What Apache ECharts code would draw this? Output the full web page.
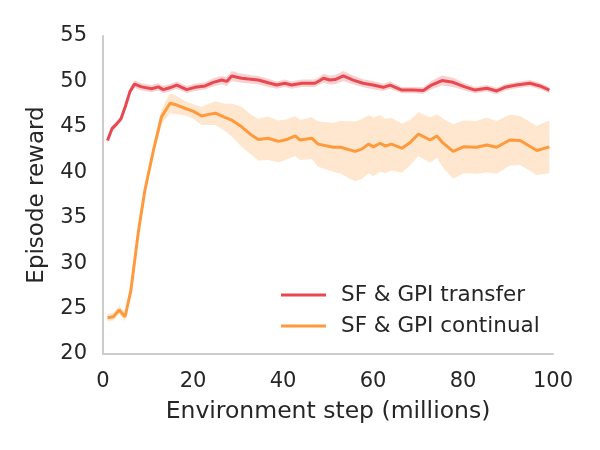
<!DOCTYPE html>
<html>
<head>
<meta charset="utf-8">
<script src="https://cdn.jsdelivr.net/npm/echarts@6/dist/echarts.min.js"></script>
<style>html,body{margin:0;padding:0;background:#fff}#c{width:600px;height:450px}</style>
</head>
<body>
<div id="c"></div>
<script>
// Data
const transferX = [1,2,3,4,5,6,7,8.6,10.8,12.3,13.4,14.8,16.4,18.6,20.4,22.7,24.5,26.4,27.5,28.6,30.8,34.5,36.7,38.6,40.4,41.9,44.2,47.1,48.2,49,50.4,51.6,53.4,55.6,57.8,60,62.3,63.8,66.4,69,71.2,73,75.3,77.8,80.4,82.7,85.3,87.5,89.3,91.9,94.9,97.1,99.2];
const transferY = [43.5,44.8,45.3,45.9,47.3,48.9,49.7,49.4,49.2,49.4,49.1,49.3,49.6,49.1,49.35,49.5,49.9,50.15,50.0,50.6,50.35,50.15,49.85,49.6,49.8,49.6,49.8,49.8,50.1,50.35,50.15,50.2,50.6,50.15,49.8,49.6,49.35,49.6,49.05,49.05,49.0,49.6,50.1,49.9,49.4,49.05,49.25,48.95,49.35,49.6,49.8,49.5,49.05];
const transferSpread = [0.3,0.3,0.3,0.3,0.35,0.4,0.4,0.4,0.4,0.4,0.4,0.4,0.4,0.4,0.4,0.4,0.45,0.45,0.5,0.55,0.5,0.45,0.45,0.4,0.4,0.4,0.4,0.4,0.45,0.5,0.5,0.5,0.55,0.5,0.45,0.45,0.4,0.4,0.35,0.35,0.35,0.45,0.55,0.5,0.4,0.35,0.35,0.35,0.35,0.35,0.35,0.35,0.35];

const continualX = [1,2.3,3.6,4.9,6.2,7.9,9.3,11.2,13,14.9,16.4,18.2,20.1,21.9,23.8,25,27.1,28.6,30.8,33,34.5,36.7,39,40.8,42.7,43.8,46.4,47.8,51.2,52.8,56,57.5,59,60.1,61.6,62.7,64.1,66.4,68.2,70.1,72.7,74.2,75.6,77.8,80.1,83,85.3,87.5,90.4,92.7,96.4,99.2];
const continualY = [24.0,24.1,24.85,24.1,27.0,33.6,38.0,42.4,46.1,47.6,47.4,47.05,46.7,46.2,46.4,46.5,46.05,45.75,45.0,44.1,43.6,43.75,43.4,43.6,44.0,43.55,43.75,43.1,42.75,42.75,42.3,42.55,43.1,42.8,43.2,42.9,43.1,42.65,43.25,44.2,43.55,44.0,43.2,42.3,42.8,42.75,43.0,42.75,43.55,43.5,42.4,42.8];
const continualSpread = [0.4,0.4,0.45,0.5,0.5,0.5,0.5,0.6,0.8,1.1,1.0,0.8,0.8,1.0,1.2,1.3,1.5,1.8,2.2,2.2,2.3,2.4,2.3,2.2,2.2,2.2,2.3,2.5,2.7,2.9,3.3,3.3,3.2,3.2,3.1,3.0,2.9,2.7,2.5,2.4,2.5,2.4,2.7,3.0,2.9,2.9,3.0,2.9,2.8,2.7,2.7,2.9];

const xTicks = [0,20,40,60,80,100];
const yTicks = [20,25,30,35,40,45,50,55];

const redColor = '#e8494f';
const orangeColor = '#ff9a3c';
const textColor = '#262626';
const font = 'DejaVu Sans';

function pairs(xs, ys) { return xs.map((x, i) => [x, ys[i]]); }

function bandSeries(xs, ys, sp, color) {
  return {
    type: 'custom', silent: true, z: 1,
    data: [[xs[0], ys[0]]],
    clip: true,
    renderItem: function (params, api) {
      const pts = [];
      for (let i = 0; i < xs.length; i++) pts.push(api.coord([xs[i], ys[i] + sp[i]]));
      for (let i = xs.length - 1; i >= 0; i--) pts.push(api.coord([xs[i], ys[i] - sp[i]]));
      return {type: 'polygon', shape: {points: pts}, style: {fill: color, opacity: 0.25}};
    }
  };
}

const chart = echarts.init(document.getElementById('c'), null, {renderer: 'canvas'});
chart.setOption({
  animation: false,
  backgroundColor: '#fff',
  textStyle: {fontFamily: font, color: textColor},
  grid: {left: 103, right: 47, top: 36, bottom: 96, containLabel: false},
  xAxis: {
    type: 'value', min: xTicks[0], max: xTicks[xTicks.length - 1], interval: 20,
    name: 'Environment step (millions)', nameLocation: 'middle', nameGap: 46,
    nameTextStyle: {fontSize: 23.5, color: textColor, fontFamily: font},
    axisLine: {show: true, lineStyle: {color: '#cccccc', width: 2}},
    axisTick: {show: false},
    splitLine: {show: false},
    axisLabel: {fontSize: 21, color: textColor, margin: 17, fontFamily: font}
  },
  yAxis: {
    type: 'value', min: yTicks[0], max: yTicks[yTicks.length - 1], interval: 5,
    name: 'Episode reward', nameLocation: 'middle', nameGap: 54,
    nameTextStyle: {fontSize: 23, color: textColor, fontFamily: font},
    axisLine: {show: true, lineStyle: {color: '#cccccc', width: 2}},
    axisTick: {show: false},
    splitLine: {show: false},
    axisLabel: {fontSize: 21, color: textColor, margin: 16, fontFamily: font}
  },
  legend: {
    data: ['SF & GPI transfer', 'SF & GPI continual'],
    orient: 'vertical', left: 281, top: 284, padding: 0,
    itemWidth: 45, itemHeight: 3, itemGap: 9,
    icon: 'rect',
    textStyle: {fontSize: 21.5, color: textColor, fontFamily: font, padding: [0, 0, 0, 10]}
  },
  series: [
    bandSeries(transferX, transferY, transferSpread, redColor),
    bandSeries(continualX, continualY, continualSpread, orangeColor),
    {name: 'SF & GPI transfer', type: 'line', data: pairs(transferX, transferY),
     symbol: 'none', color: redColor, lineStyle: {width: 3, color: redColor}, z: 3},
    {name: 'SF & GPI continual', type: 'line', data: pairs(continualX, continualY),
     symbol: 'none', color: orangeColor, lineStyle: {width: 3, color: orangeColor}, z: 3}
  ]
});
</script>
</body>
</html>
